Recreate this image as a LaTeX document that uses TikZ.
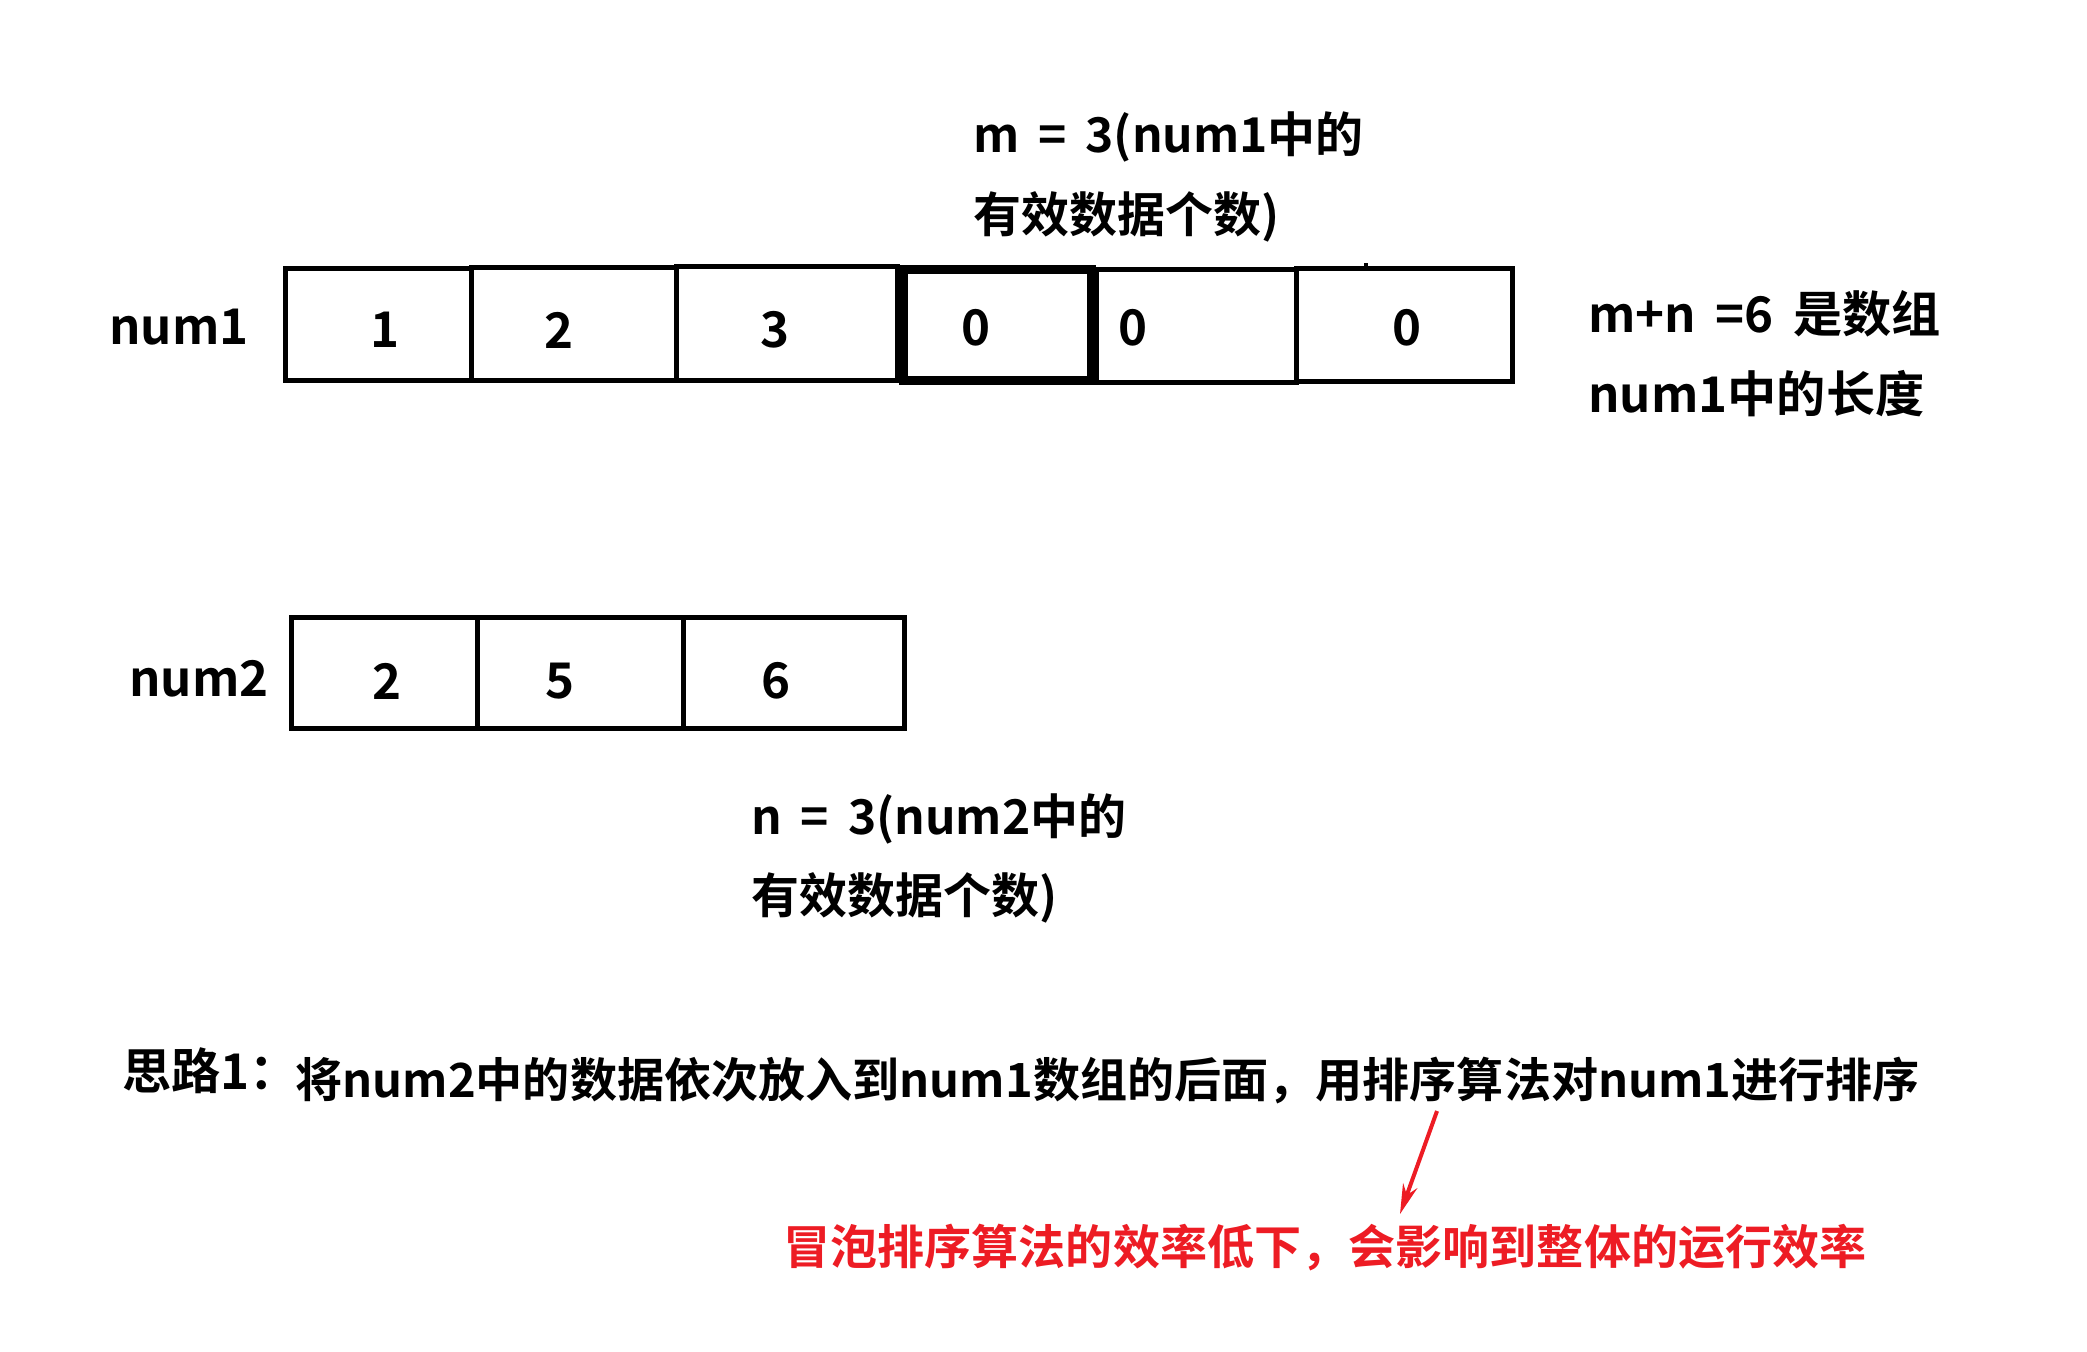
\documentclass[tikz,border=0pt]{standalone}
\usepackage{fontspec}
\setmainfont{Noto Sans CJK SC}[UprightFont={* Bold}]
\usetikzlibrary{arrows.meta}
\definecolor{notered}{RGB}{237,28,36}

\begin{document}
\begin{tikzpicture}[x=0.2mm,y=-0.2mm,
  every node/.style={font=\fontsize{28}{34}\selectfont,inner sep=0pt},
  cell/.style 2 args={draw,line width=1mm,minimum width=#1*0.2mm,minimum height=#2*0.2mm},
  word/.style={anchor=west},
  note/.style={anchor=west,font=\fontsize{27.3}{33}\selectfont},
  line/.style={anchor=west,font=\fontsize{26.8}{32}\selectfont}]
  \useasboundingbox (0,0) rectangle (2087,1351);

  \node[note] (m1) at (973,137) {m \,= \,3(num1中的};
  \node[note] (m2) at (973,217) {有效数据个数)};

  \node[word] (num1) at (109,327) {num1};
  \node[cell={186}{112}] (a1) at (378,324) {};
  \node[cell={205}{113}] (a2) at (573.5,323.5) {};
  \node[cell={221}{114}] (a3) at (786.5,323) {};
  \node[cell={188}{111.5},line width=1.8mm] (a4) at (997,325) {};
  \node[cell={200}{113}] (a5) at (1196,325.5) {};
  \node[cell={216}{113.5}] (a6) at (1404,325) {};
  \draw[line width=0.8mm] (1366,263) -- (1366,270);

  \node (v1) at (385,330) {1};
  \node (v2) at (559,330) {2};
  \node (v3) at (775,330) {3};
  \node (v4) at (976,328) {0};
  \node (v5) at (1133,328) {0};
  \node (v6) at (1407,328) {0};

  \node[word] (mn1) at (1588,314) {m+n \,=6 \,是数组};
  \node[word] (mn2) at (1588,394) {num1中的长度};

  \node[word] (num2) at (129,679) {num2};
  \node[cell={186}{111.5}] (b1) at (384,673) {};
  \node[cell={206}{111.5}] (b2) at (580,673) {};
  \node[cell={221}{111.5}] (b3) at (793.5,673) {};

  \node (w1) at (387,681) {2};
  \node (w2) at (560,681) {5};
  \node (w3) at (776,681) {6};

  \node[note] (n1) at (751,819) {n \,= \,3(num2中的};
  \node[note] (n2) at (751,898) {有效数据个数)};

  \node[word] (idea) at (122,1071) {思路1：};
  \node[line] (plan) at (295,1081) {将num2中的数据依次放入到num1数组的后面，用排序算法对num1进行排序};

  \coordinate (p0) at (1437,1111);
  \coordinate (p1) at (1400,1214);
  \draw[notered,line width=0.8mm,-{Stealth[length=6mm,width=3mm]}] (p0) -- (p1);

  \node[line,text=notered] (slow) at (783,1248) {冒泡排序算法的效率低下，会影响到整体的运行效率};
\end{tikzpicture}
\end{document}
